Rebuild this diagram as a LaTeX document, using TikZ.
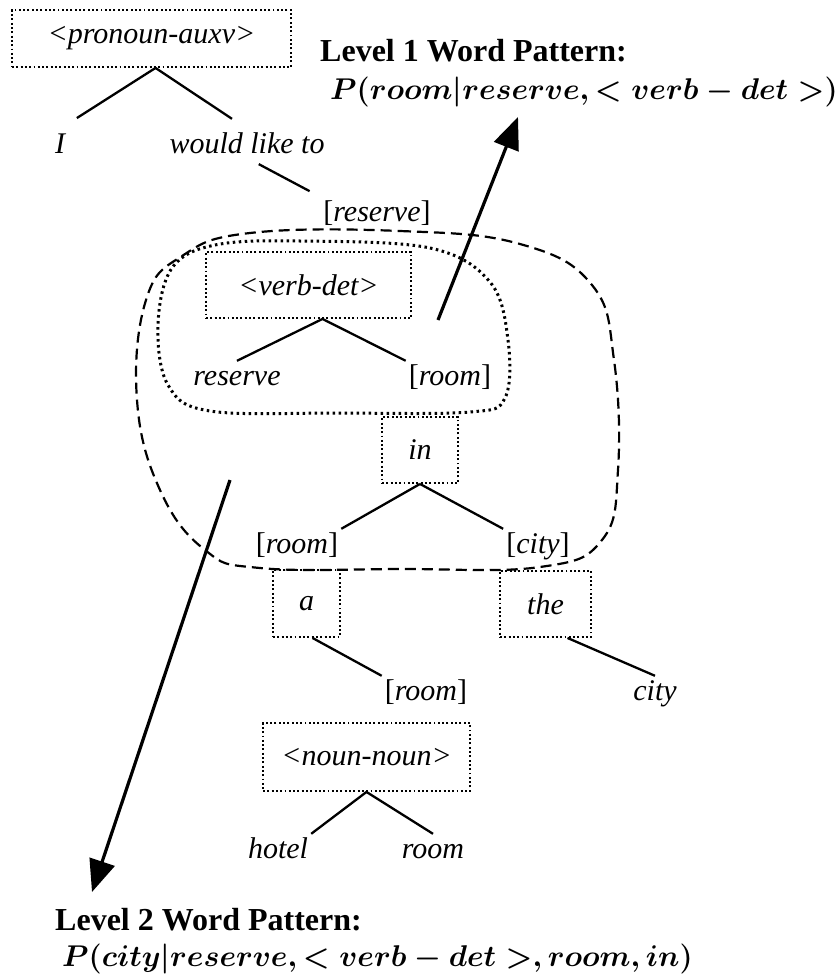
\documentclass[tikz,border=0pt]{standalone}
\usepackage{fix-cm}
\usepackage{fontspec}
\setmainfont{Liberation Serif}
\usepackage{amsmath}
\usetikzlibrary{arrows.meta,calc}
\newcommand{\treesize}{\fontsize{30}{36}\selectfont}
\newcommand{\bracketed}[1]{\textup{[}#1\textup{]}}
\newcommand{\levelone}{$P(room\vert reserve,<verb-det>)$}
\newcommand{\leveltwo}{$P(city\vert reserve,<verb-det>,room,in)$}
\tikzset{
  tag/.style={draw, line width=1.9pt, dash pattern=on 1.9pt off 2.4pt,
              inner sep=0pt, font=\treesize\itshape},
  word/.style={anchor=base, inner sep=3pt, text height=21pt, text depth=7pt,
               font=\treesize\itshape},
  branch/.style={line width=2.3pt},
  levelname/.style={anchor=base west, inner sep=0pt,
                    font=\fontsize{32}{38}\selectfont\bfseries},
  wordpat/.style={anchor=base west, inner sep=0pt,
                  font=\fontsize{30}{36}\selectfont\mathversion{bold}},
  patarrow/.style={line width=3.2pt, -{Triangle[length=32pt,width=26pt]}},
}
\begin{document}
\begin{tikzpicture}[x=1pt, y=-1pt]
  \useasboundingbox (0,0) rectangle (840,978);

  % grouped word classes and the plain words under them
  \node[tag, minimum width=279pt, minimum height=57pt] (pa) at (151.5,38.5) {<pronoun-auxv>};
  \node[word] (i)     at (60,153)  {I};
  \node[word] (would) at (247,153) {would like to};
  \node[word] (rsv)   at (377,221) {\bracketed{reserve}};

  \node[tag, minimum width=205pt, minimum height=66pt] (vd) at (308.5,285) {<verb-det>};
  \node[word] (res) at (237,385) {reserve};
  \node[word] (rm1) at (450,385) {\bracketed{room}};

  \node[tag, minimum width=76pt, minimum height=66pt] (in) at (420,450) {in};
  \node[word] (rm2)   at (297,553) {\bracketed{room}};
  \node[word] (city1) at (538,553) {\bracketed{city}};

  \node[tag, minimum width=67pt, minimum height=67pt] (a)   at (306.5,603.5) {a};
  \node[tag, minimum width=91pt, minimum height=66pt] (the) at (545.5,604) {the};
  \node[word] (rm3)   at (426,700) {\bracketed{room}};
  \node[word] (city2) at (655,700) {city};

  \node[tag, minimum width=207pt, minimum height=68pt] (nn) at (366.5,757) {<noun-noun>};
  \node[word] (hotel) at (278,858) {hotel};
  \node[word] (room)  at (433,858) {room};

  % branches
  \draw[branch, shorten >=20pt] ([xshift=4pt]pa.south) -- (i.north);
  \draw[branch, shorten >=18pt] ([xshift=4pt]pa.south) -- (would.north);
  \draw[branch, shorten <=2pt, shorten >=12pt] ([xshift=10pt]would.south) -- (rsv.north west);
  \draw[branch] ([xshift=14pt]vd.south) -- (res.north);
  \draw[branch] ([xshift=14pt]vd.south) -- (rm1.north west);
  \draw[branch] (in.south) -- (rm2.north east);
  \draw[branch] (in.south) -- (city1.north west);
  \draw[branch] ([xshift=6pt]a.south) -- (rm3.north west);
  \draw[branch] ([xshift=22pt]the.south) -- (city2.north);
  \draw[branch] (nn.south) -- (hotel.north east);
  \draw[branch] (nn.south) -- (room.north);

  % level 1 and level 2 context
  \draw[line width=3pt, dash pattern=on 2.5pt off 3.5pt] plot[smooth cycle, tension=0.6] coordinates {
    (300,241) (430,248) (490,282) (508,340) (505,398) (470,412) (340,413)
    (210,411) (168,385) (158,325) (172,268) (215,245)};
  \draw[line width=2.2pt, dash pattern=on 11pt off 6pt] plot[smooth cycle, tension=0.7] coordinates {
    (250,233) (400,231) (520,244) (592,285) (614,360) (618,470) (602,540)
    (540,567) (400,569) (260,568) (205,550) (160,490) (137,400) (146,300) (182,256)};

  \node[levelname] (lvl1) at (320,61) {Level 1 Word Pattern:};
  \node[wordpat]   (pat1) at (330,99) {\levelone};
  \node[levelname] (lvl2) at (55,930) {Level 2 Word Pattern:};
  \node[wordpat]   (pat2) at (62,966) {\leveltwo};

  \coordinate (inner) at (438,320);
  \coordinate (outer) at (230,480);
  \draw[patarrow] (inner) -- ([shift={(188pt,-18pt)}]pat1.base west);
  \draw[patarrow] (outer) -- ([shift={(37pt,38pt)}]lvl2.base west);
\end{tikzpicture}
\end{document}
